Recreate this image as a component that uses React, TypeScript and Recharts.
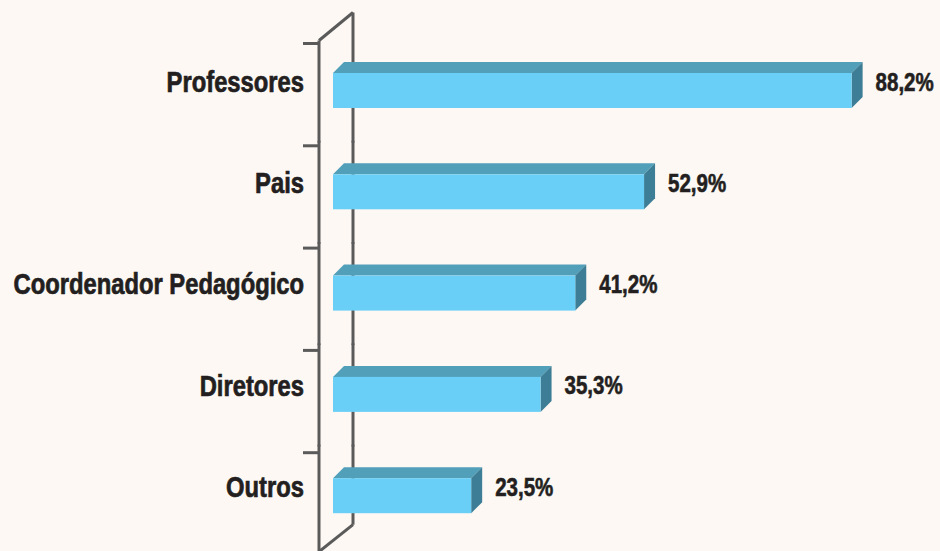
import React from 'react';
import { BarChart, Bar, XAxis, YAxis, LabelList } from 'recharts';

const categories = ['Professores', 'Pais', 'Coordenador Pedagógico', 'Diretores', 'Outros'];
const percentages = [88.2, 52.9, 41.2, 35.3, 23.5];

const data = categories.map((name, i) => ({ name, value: percentages[i] }));

const FONT = "'Liberation Sans', Arial, sans-serif";
const TEXT = '#231f20';
const AXIS = '#5a5a5a';
const DEPTH = 11;
const SQUEEZE = 0.82; // narrow the bold face to look like the condensed original

// 3D bar: front face, top face, right side face
function Bar3D(props: any) {
  const { x, y, width, height } = props;
  if (!width || width <= 0) return null;
  const r = x + width;
  return (
    <g>
      <polygon
        points={`${x},${y} ${x + DEPTH},${y - DEPTH} ${r + DEPTH},${y - DEPTH} ${r},${y}`}
        fill="#529fba"
      />
      <polygon
        points={`${r},${y} ${r + DEPTH},${y - DEPTH} ${r + DEPTH},${y + height - DEPTH} ${r},${y + height}`}
        fill="#3d7e96"
      />
      <rect x={x} y={y} width={width} height={height} fill="#6acff6" />
    </g>
  );
}

// the axis "wall", drawn band by band behind the bars
function Wall(props: any) {
  const { x, y, height, index } = props;
  const cy = y + height / 2;
  const last = index === categories.length - 1;
  const lx = x - 14;
  const rx = x + 20;
  const top = cy - 51;
  const bottom = cy + 52;
  const tickY = cy - 47 + index * 1;
  return (
    <g stroke={AXIS} strokeWidth={3} fill="none">
      <line x1={x - 30} y1={tickY} x2={lx} y2={tickY} />
      <line x1={lx} y1={index === 0 ? cy - 50 : top} x2={lx} y2={last ? cy + 60 : bottom} />
      <line x1={rx} y1={index === 0 ? cy - 78 : top} x2={rx} y2={last ? cy + 29 : bottom} />
      {index === 0 && <line x1={lx} y1={cy - 50} x2={rx} y2={cy - 78} />}
      {last && <line x1={rx} y1={cy + 29} x2={lx} y2={cy + 56} />}
    </g>
  );
}

function CategoryTick(props: any) {
  const { y, payload } = props;
  return (
    <text
      transform={`translate(304, ${y + 1}) scale(${SQUEEZE}, 1)`}
      textAnchor="end"
      fill={TEXT}
      stroke={TEXT}
      strokeWidth={0.7}
      fontFamily={FONT}
      fontWeight="bold"
      fontSize={29}
    >
      {payload.value}
    </text>
  );
}

function ValueLabel(props: any) {
  const { x, y, width, height, value } = props;
  return (
    <text
      transform={`translate(${x + width + 24}, ${y + height / 2}) scale(${SQUEEZE}, 1)`}
      fill={TEXT}
      stroke={TEXT}
      strokeWidth={0.6}
      fontFamily={FONT}
      fontWeight="bold"
      fontSize={25}
    >
      {String(value).replace('.', ',') + '%'}
    </text>
  );
}

export default function App() {
  return (
    <div style={{ position: 'fixed', left: 0, top: 0, width: 940, height: 551, background: '#fdf8f4' }}>
      <BarChart
        width={940}
        height={551}
        data={data}
        layout="vertical"
        margin={{ top: 40, right: 19, bottom: 4.5, left: 0 }}
      >
        <XAxis type="number" domain={[0, 100]} hide />
        <YAxis
          type="category"
          dataKey="name"
          width={333}
          axisLine={false}
          tickLine={false}
          interval={0}
          tick={<CategoryTick />}
        />
        <Bar dataKey="value" barSize={35} shape={<Bar3D />} background={<Wall />} isAnimationActive={false}>
          <LabelList dataKey="value" content={<ValueLabel />} />
        </Bar>
      </BarChart>
    </div>
  );
}
